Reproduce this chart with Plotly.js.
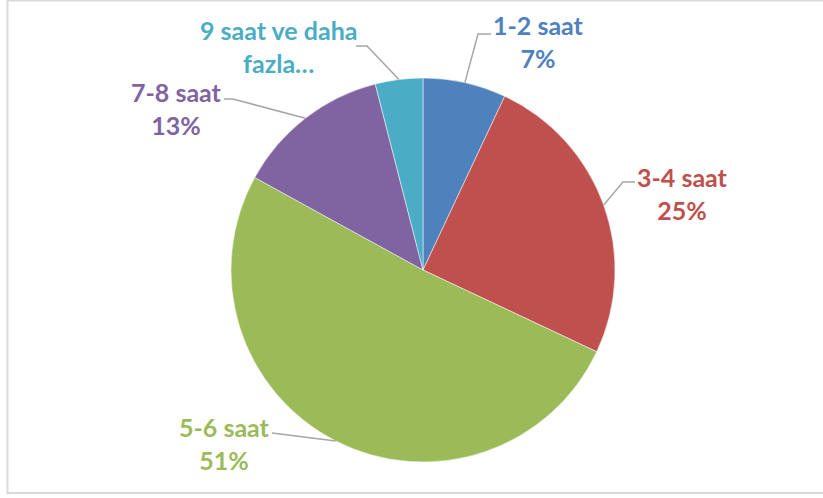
<!DOCTYPE html>
<html>
<head>
<meta charset="utf-8">
<script src="https://cdn.plot.ly/plotly-3.0.1.min.js"></script>
<style>html,body{margin:0;padding:0;background:#fff;}#chart{width:823px;height:498px;}</style>
</head>
<body>
<div id="chart"></div>
<script>
// Data
const categories = ["1-2 saat", "3-4 saat", "5-6 saat", "7-8 saat", "9 saat ve daha fazla…"];
const labelTexts = ["1-2 saat", "3-4 saat", "5-6 saat", "7-8 saat", "9 saat ve daha<br>fazla…"];
const percents = [7, 25, 51, 13, 4];
const colors = ["#4F81BD", "#C0504D", "#9BBB59", "#8064A2", "#4BACC6"];

// Layout geometry (pixels)
const W = 823, H = 498;
const CX = 423, CY = 270, R = 192;
// label placement: [elbow x, elbow y, end x, label center x, label center y]
const labelPos = [
  [478, 34, 491, 538, 41],
  [623, 182, 635, 682, 194],
  [272, 433, 272, 224, 443],
  [233, 99, 224, 176, 108],
  [367, 46, 356, 278, 46]
];

function px(x, y) { return [x / W, 1 - y / H]; }

const total = percents.reduce((a, b) => a + b, 0);
const shapes = [];
const annotations = [];
let cum = 0;
percents.forEach((p, i) => {
  const mid = (cum + p / 2) / total * 2 * Math.PI;
  cum += p;
  const sx = CX + R * Math.sin(mid), sy = CY - R * Math.cos(mid);
  const [ex, ey, hx, lx, ly] = labelPos[i];
  const a = px(sx, sy), b = px(ex, ey), c = px(hx, ey);
  shapes.push({
    type: 'path', xref: 'paper', yref: 'paper',
    path: `M ${a[0]} ${a[1]} L ${b[0]} ${b[1]} L ${c[0]} ${c[1]}`,
    line: {color: '#A6A6A6', width: 1.5}
  });
  const l = px(lx, ly);
  annotations.push({
    xref: 'paper', yref: 'paper', x: l[0], y: l[1],
    xanchor: 'center', yanchor: 'middle', showarrow: false,
    text: (i === 4 ? labelTexts[i] : labelTexts[i] + '<br>' + p + '%'),
    font: {family: 'Lato, "Open Sans", sans-serif', size: 25, color: colors[i], weight: 700},
    align: 'center'
  });
});

// Chart border
shapes.push({
  type: 'rect', xref: 'paper', yref: 'paper',
  x0: 7.5 / W, x1: 840 / W, y0: 1 - 493 / H, y1: 1 - 0.5 / H,
  line: {color: '#D9D9D9', width: 2}, fillcolor: 'rgba(0,0,0,0)', layer: 'below'
});

const trace = {
  type: 'pie',
  labels: categories,
  values: percents,
  sort: false,
  direction: 'clockwise',
  rotation: 0,
  textinfo: 'none',
  hoverinfo: 'label+percent',
  marker: {colors: colors, line: {color: '#FFFFFF', width: 0.5}},
  domain: {x: [(CX - R) / W, (CX + R) / W], y: [1 - (CY + R) / H, 1 - (CY - R) / H]},
  showlegend: false
};

Plotly.newPlot('chart', [trace], {
  width: W, height: H,
  margin: {l: 0, r: 0, t: 0, b: 0},
  paper_bgcolor: '#FFFFFF',
  shapes: shapes,
  annotations: annotations,
  showlegend: false
}, {displayModeBar: false, staticPlot: true});
</script>
</body>
</html>
